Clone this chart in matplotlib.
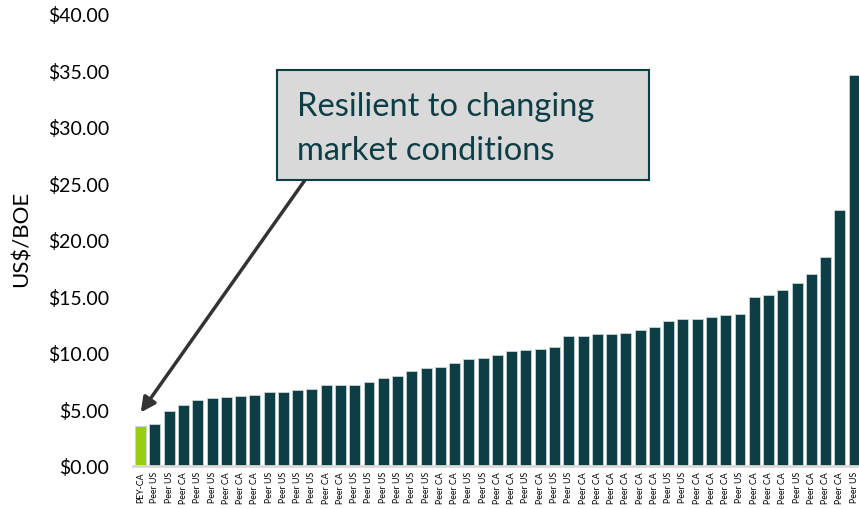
import matplotlib
matplotlib.use('Agg')
from matplotlib import pyplot as plt
from matplotlib.patches import Rectangle

plt.rcParams['font.family'] = ['Lato', 'DejaVu Sans']

# data
labels = (['PEY-CA', 'Peer US', 'Peer US', 'Peer CA', 'Peer US', 'Peer US', 'Peer CA', 'Peer CA',
           'Peer CA', 'Peer US', 'Peer US', 'Peer US', 'Peer US', 'Peer CA', 'Peer CA', 'Peer US',
           'Peer US', 'Peer US', 'Peer US', 'Peer US', 'Peer US', 'Peer CA', 'Peer CA', 'Peer US',
           'Peer US', 'Peer CA', 'Peer CA', 'Peer US', 'Peer CA', 'Peer US', 'Peer US', 'Peer CA',
           'Peer CA', 'Peer CA', 'Peer CA', 'Peer CA', 'Peer CA', 'Peer US', 'Peer US', 'Peer CA',
           'Peer CA', 'Peer CA', 'Peer US', 'Peer CA', 'Peer CA', 'Peer CA', 'Peer US', 'Peer CA',
           'Peer CA', 'Peer CA', 'Peer US'])
costs = [3.50, 3.65, 4.83, 5.36, 5.80, 5.96, 6.07, 6.13, 6.25, 6.49, 6.54, 6.67, 6.78,
         7.14, 7.14, 7.14, 7.43, 7.73, 7.91, 8.40, 8.67, 8.70, 9.06, 9.41, 9.53, 9.82,
         10.18, 10.27, 10.36, 10.53, 11.45, 11.51, 11.66, 11.69, 11.75, 12.01, 12.31,
         12.78, 12.99, 13.02, 13.17, 13.37, 13.46, 14.94, 15.12, 15.56, 16.21, 16.98,
         18.46, 22.65, 34.62]
yticks = [0, 5, 10, 15, 20, 25, 30, 35, 40]

teal = '#0d3d45'
green = '#9acd10'
W, H = 859, 510

fig = plt.figure(figsize=(W / 100, H / 100), dpi=100)
ax = fig.add_axes([132.7 / W, 43.5 / H, (W - 132.7) / W, (495 - 43.5) / H])

x = range(len(costs))
colors = [green] + [teal] * (len(costs) - 1)
ax.bar(x, costs, width=0.77, color=colors, edgecolor='#c9d4d6', linewidth=0.6)

ax.set_xlim(-0.56, 50.34)
ax.set_ylim(0, 40)
ax.set_yticks(yticks)
ax.set_yticklabels(['$%.2f' % v for v in yticks], fontsize=14)
ax.set_xticks(list(x))
ax.set_xticklabels(labels, rotation=90, fontsize=6.3)
ax.tick_params(axis='both', length=0)
ax.tick_params(axis='y', pad=17)
ax.tick_params(axis='x', pad=4)
for s in ['top', 'right', 'left']:
    ax.spines[s].set_visible(False)
ax.spines['bottom'].set_color('#d9d9d9')
ax.spines['bottom'].set_linewidth(2)

fig.text(22 / W, 1 - 239 / H, 'US$/BOE', rotation=90, fontsize=16,
         ha='center', va='center')

# callout box
fig.add_artist(Rectangle((277.3 / W, 1 - 180.5 / H), (649 - 277.3) / W, (180.5 - 70.7) / H,
                         transform=fig.transFigure, facecolor='#d9d9d9',
                         edgecolor=teal, linewidth=1.5))
fig.text(297 / W, 1 - 116 / H, 'Resilient to changing', fontsize=23.5, color=teal,
         ha='left', va='baseline')
fig.text(297 / W, 1 - 160 / H, 'market conditions', fontsize=23.5, color=teal,
         ha='left', va='baseline')

ax.annotate('', xy=(0, 4.7), xycoords='data',
            xytext=(305 / W, 1 - 181 / H), textcoords='figure fraction',
            arrowprops=dict(arrowstyle='-|>', color='#333333', lw=2.5,
                            mutation_scale=22, shrinkA=0, shrinkB=0))

fig.savefig('out.png', dpi=100)
